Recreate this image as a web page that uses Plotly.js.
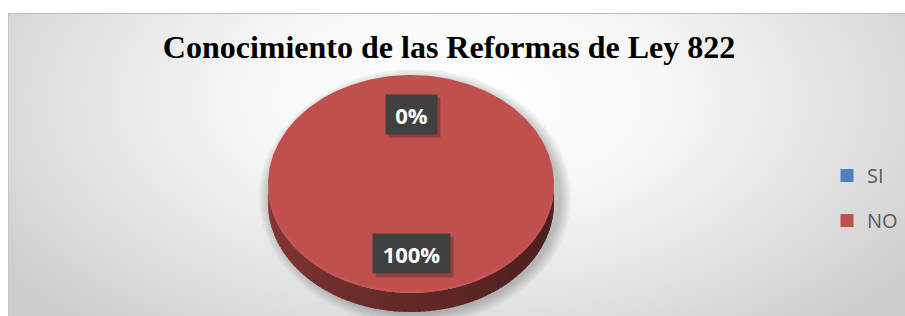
<!DOCTYPE html>
<html><head><meta charset="utf-8">
<script src="https://cdn.plot.ly/plotly-3.0.1.min.js"></script>
<style>
html,body{margin:0;padding:0;background:#fff;}
#wrap{position:relative;width:905px;height:316px;overflow:hidden;background:#fff;}
#bg{position:absolute;left:8px;top:13px;width:897px;height:303px;border-top:1px solid #bdbdbd;border-left:1px solid #c6c6c6;box-sizing:border-box;
background: radial-gradient(ellipse 62% 100% at 50% 28%, #ffffff 0%, #f8f8f8 35%, #e2e2e2 70%, #cdcdcd 100%);}
#chart{position:absolute;left:0;top:0;width:905px;height:316px;}
</style></head>
<body><div id="wrap"><div id="bg"></div><div id="chart"></div></div>
<script>
// ---- data ----
const chartTitle = 'Conocimiento de las Reformas de Ley 822';
const categories = ['SI', 'NO'];
const percentValues = [0, 100];
const sliceColors = ['#4f81bd', '#c0504d'];

// ---- style / geometry (pixels) ----
const W = 905, H = 316;
const CX = 411, CY = 184, RX = 143, RY = 109, DEPTH = 19;
const LABEL_R = 0.64;

function hexToRgb(h){ const n = parseInt(h.slice(1),16); return [(n>>16)&255,(n>>8)&255,n&255]; }
function shade(h, f){ const c = hexToRgb(h).map(v=>Math.max(0,Math.min(255,Math.round(v*f)))); return 'rgb('+c.join(',')+')'; }
function pt(th, dy){ return [CX + RX*Math.sin(th), CY - RY*Math.cos(th) + (dy||0)]; }

const total = percentValues.reduce((a,b)=>a+b,0);
const traces = [];
const annotations = [];
const shapes = [];

// soft shadow under the pie
for (let k = 6; k >= 1; k--) {
  shapes.push({type:'circle', xref:'x', yref:'y', layer:'below',
    x0: CX - RX - 2*k + 3, x1: CX + RX + 2*k + 5,
    y0: CY - RY - 2*k + 6, y1: CY + RY + DEPTH + 2*k + 1,
    fillcolor:'rgba(0,0,0,0.04)', line:{width:0}});
}

// slice angle ranges (start at 12 o'clock, clockwise)
let acc = 0;
const ranges = percentValues.map(v => { const a0 = acc/total*2*Math.PI; acc += v; return [a0, acc/total*2*Math.PI]; });

// side (front) strips
const STEP = Math.PI/90;
ranges.forEach((r, i) => {
  const lo = Math.max(r[0], Math.PI/2), hi = Math.min(r[1], 3*Math.PI/2);
  if (hi <= lo) return;
  for (let a = lo; a < hi; a += STEP) {
    const b = Math.min(hi, a + STEP*1.6);
    const xs = [], ys = [];
    const n = 4;
    for (let j = 0; j <= n; j++) { const p = pt(a + (b-a)*j/n); xs.push(p[0]); ys.push(p[1]); }
    for (let j = n; j >= 0; j--) { const p = pt(a + (b-a)*j/n, DEPTH); xs.push(p[0]); ys.push(p[1]); }
    const t = ((a+b)/2 - Math.PI/2)/Math.PI; // 0 = right, 1 = left
    const f = 0.38 + 0.34*Math.pow(t, 1.4);
    traces.push({type:'scatter', mode:'lines', x:xs, y:ys, fill:'toself',
      fillcolor: shade(sliceColors[i], f), line:{width:0, color:shade(sliceColors[i], f)},
      hoverinfo:'skip', showlegend:false});
  }
});

// top faces
ranges.forEach((r, i) => {
  if (r[1] - r[0] <= 0) return;
  const xs = [], ys = [];
  const full = (r[1] - r[0]) >= 2*Math.PI - 1e-9;
  if (!full) { xs.push(CX); ys.push(CY); }
  const n = Math.max(2, Math.ceil((r[1]-r[0])/(Math.PI/180)));
  for (let j = 0; j <= n; j++) { const p = pt(r[0] + (r[1]-r[0])*j/n); xs.push(p[0]); ys.push(p[1]); }
  traces.push({type:'scatter', mode:'lines', x:xs, y:ys, fill:'toself',
    fillcolor: sliceColors[i], line:{width:0, color:sliceColors[i]},
    name: categories[i], hoverinfo:'name', showlegend:false});
  // light rim on the front edge
  const lo = Math.max(r[0], Math.PI/2 + 0.15), hi = Math.min(r[1], 3*Math.PI/2 - 0.15);
  if (hi > lo) {
    const rx = [], ry = [];
    for (let j = 0; j <= 60; j++) { const p = pt(lo + (hi-lo)*j/60, -1.2); rx.push(p[0]); ry.push(p[1]); }
    traces.push({type:'scatter', mode:'lines', x:rx, y:ry,
      line:{width:2, color:shade(sliceColors[i], 1.08)}, opacity:0.7, hoverinfo:'skip', showlegend:false});
  }
});

// legend entries
categories.forEach((c, i) => {
  traces.push({type:'scatter', mode:'markers', x:[null], y:[null], name:c, legendgroup:c,
    marker:{symbol:'square', size:13, color:sliceColors[i]}, showlegend:true});
});

// data labels (box + drop shadow)
const ctx = document.createElement('canvas').getContext('2d');
ctx.font = 'bold 22px "Open Sans"';
ranges.forEach((r, i) => {
  const mid = (r[0] + r[1]) / 2;
  const p = [CX + LABEL_R*RX*Math.sin(mid), CY - LABEL_R*RY*Math.cos(mid)];
  const txt = Math.round(percentValues[i]/total*100) + '%';
  const w = Math.round(ctx.measureText(txt).width + 19);
  const h = 39;
  shapes.push({type:'rect', xref:'x', yref:'y', layer:'above',
    x0: p[0] - w/2 + 3, x1: p[0] + w/2 + 4, y0: p[1] - h/2 + 3, y1: p[1] + h/2 + 4,
    fillcolor:'rgba(0,0,0,0.22)', line:{width:0}});
  annotations.push({x:p[0], y:p[1], xref:'x', yref:'y', showarrow:false, text:txt,
    width:w, height:h, borderpad:0, align:'center', valign:'middle', bgcolor:'#404040',
    font:{family:'Open Sans', size:22, color:'#ffffff', weight:700}});
});

const layout = {
  width: W, height: H,
  margin: {l:0, r:0, t:0, b:0, pad:0},
  paper_bgcolor: 'rgba(0,0,0,0)', plot_bgcolor: 'rgba(0,0,0,0)',
  title: {text: chartTitle, x: 449/W, xanchor:'center', y: 1 - 47/H, yanchor:'middle', yref:'container',
    font:{family:'Liberation Serif, Times New Roman, serif', size:32, color:'#000000', weight:700}},
  xaxis: {range:[0, W], visible:false, fixedrange:true},
  yaxis: {range:[H, 0], visible:false, fixedrange:true},
  showlegend: true,
  legend: {x: 827/W, xanchor:'left', y: 1 - 156/H, yanchor:'top', bgcolor:'rgba(0,0,0,0)',
    font:{family:'Open Sans', size:20, color:'#595959'}, tracegroupgap: 16, itemwidth:30},
  shapes: shapes,
  annotations: annotations
};

Plotly.newPlot('chart', traces, layout, {displayModeBar:false, staticPlot:true});
</script>
</body></html>
